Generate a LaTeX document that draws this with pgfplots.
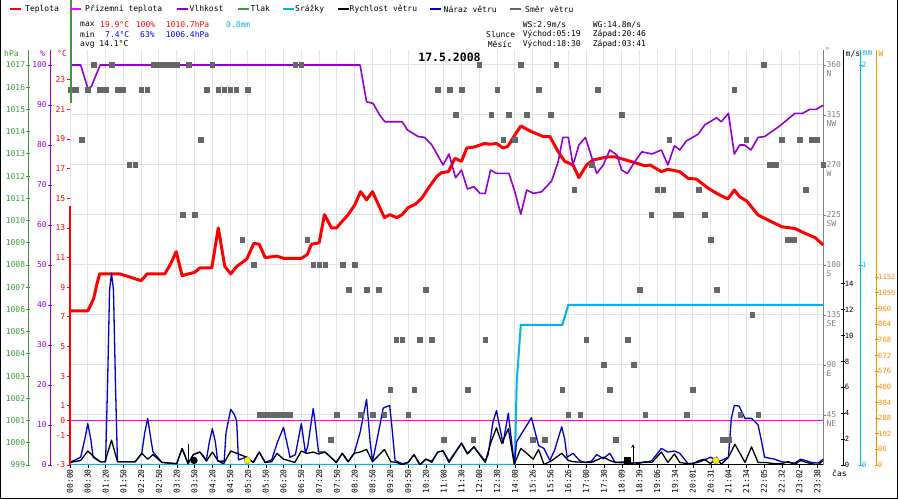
\documentclass[border=0pt]{standalone}
\usepackage{pgfplots}
\pgfplotsset{compat=1.18}
\usepackage{fontspec}
\setmainfont{DejaVu Sans Mono}
\definecolor{cT}{HTML}{FF0000}
\definecolor{cG}{HTML}{FF00FF}
\definecolor{cH}{HTML}{9400D3}
\definecolor{cP}{HTML}{3A9A3A}
\definecolor{cR}{HTML}{00B4F0}
\definecolor{cWG}{HTML}{0000CC}
\definecolor{cWD}{HTML}{666666}
\definecolor{cSun}{HTML}{FF8C00}
\definecolor{cGrid}{HTML}{E3E3E3}
\definecolor{cAx}{HTML}{808080}
\definecolor{cMin}{HTML}{0000FF}
\newcommand{\sm}{\fontsize{8}{9}\selectfont}
\newcommand{\xs}{\fontsize{7.2}{8}\selectfont}
\pgfplotsset{
  every axis/.append style={/pgf/number format/assume math mode=true,/pgf/number format/1000 sep={}},
  lay/.style={scale only axis, width=753.3pt, height=415pt, at={(70pt,35pt)}, anchor=south west, xmin=0, xmax=127},
  yax/.style={scale only axis, width=10pt, height=415pt, hide x axis, xmin=0, xmax=1, ytick align=center, major tick length=4pt, tick label style={font=\sm}},
  rax/.style={yax, tick label style={font=\xs}, yticklabel style={inner sep=0.5pt, xshift=-1.2pt}},
}
\begin{document}
\begin{tikzpicture}[x=1pt,y=1pt]
\useasboundingbox (0,0) rectangle (900,500);
\fill[white] (0,0) rectangle (900,500);
% main axis: grid, direction scale
\begin{axis}[lay, ymin=0, ymax=373.5,
  axis x line*=bottom, axis y line*=right,
  x axis line style={black, line width=1pt},
  y axis line style={cAx, line width=1.2pt},
  xtick={0,3,...,126},
  xticklabels={00:00,00:30,01:20,01:50,02:20,02:50,03:20,03:50,04:20,04:50,05:20,05:50,06:20,06:50,07:20,07:50,08:20,08:50,09:20,09:50,10:20,11:00,11:30,12:00,12:30,14:00,15:26,15:56,16:26,17:00,17:30,18:09,18:39,19:06,19:34,20:01,20:31,21:04,21:34,22:05,22:32,23:02,23:38},
  xticklabel style={rotate=90, anchor=east, font=\sm, inner sep=1pt},
  tick align=outside, major tick length=3pt,
  xtick style={black},
  ytick={45,90,...,360},
  yticklabels={{45\\NE},{90\\E},{135\\SE},{180\\S},{225\\SW},{270\\W},{315\\NW},{360\\N}},
  yticklabel style={align=left, anchor=north west, yshift=4.5pt, xshift=-1pt, font=\sm, text=cAx, inner sep=1pt},
  ytick style={cAx},
  grid=major, grid style={cGrid, line width=1pt},
]
\end{axis}
% temperature
\begin{axis}[lay, ymin=-3, ymax=25.012, hide x axis, axis y line*=left, y axis line style={draw=none},
  ytick={-3,-1,0,1,3,5,7,9,11,13,15,17,19,21,23}, tick align=outside, major tick length=3.5pt,
  ytick style={cT, line width=0.8pt}, yticklabel style={text=cT, font=\sm, inner sep=1pt}]
\addplot[cT, line width=3pt, line join=round] coordinates {(0,7.4) (3,7.4) (3.5,7.8) (4,8.25) (4.5,9.15) (5,9.9) (8.4,9.9) (10,9.7) (12,9.44) (13,9.9) (16,9.9) (17,10.6) (17.9,11.4) (18.9,9.78) (20,9.9) (21,10.0) (21.9,10.3) (23.9,10.3) (25,13.0) (26.1,10.4) (27.1,9.9) (28.1,10.4) (29.8,10.9) (31,11.96) (31.9,11.9) (32.9,11.0) (34.9,11.1) (36,10.95) (39,10.95) (40,11.2) (40.7,11.9) (42,12.0) (42.9,13.9) (44.1,13.0) (44.9,13.0) (46.9,13.9) (48,14.55) (49,15.45) (50,14.9) (51,15.45) (53,13.7) (53.9,13.9) (55.1,13.7) (56,13.9) (57,14.37) (58.2,14.6) (59.3,15.0) (60.4,15.68) (61.8,16.46) (62.6,16.73) (63.8,16.8) (64.9,17.7) (66,17.5) (66.9,18.4) (68,18.45) (69.9,18.7) (70.8,18.65) (71.9,18.7) (73,18.4) (73.8,18.5) (75,19.27) (76,19.88) (77.8,19.5) (79.8,19.17) (80.9,19.17) (82.3,18.15) (83.4,17.5) (84.8,17.25) (85.8,16.4) (87.1,17.25) (88.2,17.59) (90.7,17.8) (91.9,17.8) (94.7,17.47) (96.9,17.2) (97.8,17.25) (99.7,16.8) (100.8,16.96) (102.8,16.8) (104.2,16.35) (105.6,16.3) (107.6,15.68) (109.3,15.27) (110.9,14.96) (112,15.56) (112.9,15.1) (114.1,14.82) (116,13.87) (117.1,13.65) (120,13.08) (122.2,12.96) (123.9,12.64) (125.6,12.35) (127,11.85)};
\addplot[cG, line width=1pt] coordinates {(0,0) (127,0)};
\end{axis}
% humidity
\begin{axis}[lay, ymin=0, ymax=103.75, hide axis]
\addplot[cH, line width=1.6pt, line join=round] coordinates {(0,100) (1.8,100) (3,94.2) (3.6,94.6) (4.5,97.9) (5.1,100) (48.9,100) (50,90.8) (51.1,90.4) (52.2,87.5) (53.1,85.8) (56,85.8) (56.9,83.75) (58.7,82.1) (59.8,81.9) (61,80) (62.9,75) (63.9,77.75) (65,71.8) (66,73.75) (67,69) (68.1,69.6) (69.1,67.9) (70,67.9) (70.9,73.75) (71.9,72.9) (74,72.9) (75,68.3) (76,62.7) (77,68.75) (78.1,67.9) (79.5,68.3) (81.2,71) (82.3,75.8) (83.1,81.9) (84,81.9) (84.8,75) (85.8,80) (86.9,81.9) (88.8,72.9) (89.9,75) (91,78.75) (92.2,77.5) (93,73.75) (94,72.9) (95.2,75.8) (96.4,78.3) (98.1,77.75) (99.7,78.75) (100.8,75) (101.9,79.8) (102.8,78.75) (103.9,81) (105.9,82.7) (107,85) (109,86.8) (109.8,85.8) (111,87.9) (112,77.75) (112.9,80) (113.7,80) (114.8,78.75) (116,81.9) (117.1,82.1) (119.7,84.8) (122.2,87.9) (123.5,87.9) (124.7,88.9) (125.8,88.9) (126.8,89.8) (127,89.8)};
\end{axis}
% precipitation
\begin{axis}[lay, ymin=0, ymax=2.075, hide axis]
\addplot[cR, line width=2pt] coordinates {(0,0) (75,0) (75.3,0.41) (76,0.70) (83,0.70) (84,0.80) (127,0.80)};
\end{axis}
% wind
\begin{axis}[lay, ymin=0, ymax=32.05, hide axis]
\addplot[cWG, line width=1.3pt, line join=round] coordinates {(0,0.2) (1.8,0.6) (2.5,2.0) (3,3.2) (3.5,2.0) (3.9,0.6) (5.1,0.25) (6,0.25) (6.33,6.15) (6.67,13.5) (7,14.8) (7.33,13.5) (7.67,6.15) (8,0.25) (11,0.25) (12.1,0.9) (12.6,2.5) (13.1,3.6) (13.7,1.8) (14,1.0) (15.5,0.2) (18,0.1) (18.9,1.28) (19.9,0.1) (20.8,0.8) (21.9,1.0) (23,0.4) (23.5,1.8) (24,2.8) (24.5,1.8) (24.9,0.3) (26,0.3) (26.3,2.5) (27.1,4.3) (27.7,3.9) (28.1,3.4) (28.4,0.4) (29.8,0.6) (30.9,0.2) (31.9,1.0) (32.9,0.2) (34,0.4) (35,1.8) (36,2.9) (37.1,0.6) (38,0.8) (39,3.2) (39.7,0.9) (40.1,1.5) (41,4.36) (41.3,3.4) (41.9,1.0) (43,1.0) (44.9,0.2) (45.9,0.9) (46.9,0.25) (47.9,0.9) (48.9,2.5) (50,5.07) (50.6,1.8) (51,0.25) (52,2.5) (52.8,4.4) (53.9,4.6) (54.3,2.8) (54.8,0.35) (56,0.1) (57,0.2) (58,0.8) (59,0.05) (60,0.45) (61,0.3) (62,1.0) (62.9,1.1) (63.9,0.3) (66,1.7) (67,0.9) (68.1,1.4) (70,0.3) (70.5,0.8) (71.3,3.3) (71.9,4.2) (72.5,2.8) (73,1.67) (73.9,4.0) (74.4,2.0) (74.9,0.05) (75.3,1.8) (76.1,2.4) (77.8,3.65) (79,1.5) (79.9,1.28) (80.9,0.35) (81.7,1.15) (82.9,2.95) (83.4,2.0) (83.8,0.6) (84.8,0.9) (85.9,0.35) (86.8,0.2) (87.9,0.3) (88.8,0.8) (89.9,0.5) (91,0.9) (91.9,0.2) (94.1,0.15) (97.2,0.2) (98.1,0.35) (99.7,1.28) (100.8,1.0) (101.9,1.08) (102.8,0.9) (104.2,0.1) (105.9,0.2) (107,0.4) (108,0.6) (109,0.35) (109.8,0.35) (111,0.6) (111.5,3.6) (112,4.6) (112.8,4.55) (113.8,3.6) (114.9,3.6) (116,3.1) (116.6,1.8) (117.1,0.6) (118.8,0.45) (119.9,0.25) (122.2,0.15) (123.2,0.45) (125,0.2) (126.1,0.15) (127,0.45)};
\addplot[black, line width=1.3pt, line join=round] coordinates {(0,0.2) (1.8,0.35) (3,1.08) (4.1,0.6) (5.1,0.25) (5.9,0.25) (7,1.92) (8,0.25) (11,0.25) (12.1,0.9) (13.1,0.45) (14,0.8) (15.5,0.2) (18,0.1) (18.9,1.28) (19.9,0.1) (20.8,0.8) (21.9,1.0) (23,0.3) (24,1.0) (25,0.3) (25.9,0.1) (27.1,1.08) (28.1,0.9) (29.8,0.6) (30.9,0.2) (31.9,1.0) (32.9,0.2) (34,0.25) (34.9,0.9) (36,0.45) (37.9,0.2) (39,1.08) (40,0.9) (41,1.0) (41.9,0.85) (43,1.0) (44.9,0.2) (45.9,0.9) (46.9,0.25) (47.9,0.9) (48.9,1.0) (50,1.2) (51,0.25) (53,1.2) (54.1,0.25) (55.1,0.2) (56,0) (57,0.2) (58,0.8) (59,0) (60,0.45) (61,0.2) (62,1.0) (62.9,1.08) (63.9,0.2) (66,1.67) (67,0.85) (68.1,1.4) (70,0.2) (70.9,1.67) (71.9,2.87) (72.8,1.67) (73.9,2.8) (74.9,0.05) (76,1.28) (77,0.9) (78.1,0.45) (79,1.2) (79.9,0.05) (81.1,0.3) (82.9,0.9) (84,0.35) (84.9,0.25) (86.8,0.2) (87.9,0.2) (89.9,0.6) (91,0.35) (91.9,0.2) (94.1,0.25) (95.2,0.05) (96.9,0.25) (98.1,0.2) (99.7,1.0) (100.8,0.2) (101.9,0.85) (102.8,0.2) (104.8,0.05) (105.9,0.3) (106.9,0.45) (108,0.1) (109,0.6) (109.8,0.05) (111,0.6) (112.1,1.6) (113.8,0.2) (114.9,1.4) (116,0.2) (117.1,0.2) (118.8,0.1) (119.9,0.1) (121.1,0.25) (122.2,0.05) (123.2,0.35) (124.1,0.2) (126.1,0) (127,0.35)};
% sun / moon events
\addplot[only marks, mark=*, mark size=3.4pt, black] coordinates {(20.9,0.35)};
\addplot[only marks, mark=*, mark size=3.4pt, fill=yellow, draw=black!50] coordinates {(29.9,0.35) (108.9,0.35)};
\addplot[only marks, mark=square*, mark size=3pt, black] coordinates {(93.9,0.35)};
\addplot[black, line width=0.6pt, ->, >=stealth] coordinates {(94.9,0.1) (94.9,1.6)};
\addplot[black, line width=0.6pt, ->, >=stealth] coordinates {(19.9,1.6) (19.9,0.1)};
\end{axis}
% wind direction
\begin{axis}[lay, ymin=0, ymax=373.5, hide axis]
\addplot[only marks, mark=square*, mark size=2.3pt, color=cWD] coordinates {(0,337.5) (1,337.5) (2,292.5) (3,337.5) (4,360) (5,337.5) (6,337.5) (7,360) (8,337.5) (9,337.5) (10,270) (11,270) (12,337.5) (13,337.5) (14,360) (15,360) (16,360) (17,360) (18,360) (19,225) (20,360) (21,225) (22,292.5) (23,337.5) (24,360) (25,337.5) (26,337.5) (27,337.5) (28,337.5) (29,202.5) (30,337.5) (31,180) (32,45) (33,45) (34,45) (35,45) (36,45) (37,45) (38,360) (39,360) (40,202.5) (41,180) (42,180) (43,180) (44,22.5) (45,45) (46,180) (47,157.5) (48,180) (49,45) (50,157.5) (51,45) (52,157.5) (53,45) (54,67.5) (55,112.5) (56,112.5) (57,45) (58,67.5) (59,112.5) (60,157.5) (61,112.5) (62,337.5) (63,22.5) (64,337.5) (65,315) (66,337.5) (67,67.5) (68,22.5) (69,360) (70,112.5) (71,315) (72,337.5) (73,292.5) (74,315) (75,292.5) (76,360) (77,315) (78,22.5) (79,337.5) (80,22.5) (81,315) (82,360) (83,67.5) (84,45) (85,247.5) (86,45) (87,112.5) (88,270) (89,337.5) (90,90) (91,67.5) (92,22.5) (93,315) (94,112.5) (95,90) (96,157.5) (97,45) (98,225) (99,247.5) (100,247.5) (101,292.5) (102,225) (103,225) (104,45) (105,67.5) (106,247.5) (107,225) (108,202.5) (109,157.5) (110,22.5) (111,22.5) (112,337.5) (113,45) (114,292.5) (115,135) (116,45) (117,360) (118,270) (119,270) (120,292.5) (121,202.5) (122,202.5) (123,292.5) (124,247.5) (125,292.5) (126,292.5) (127,270)};
\end{axis}
% left axes
\begin{axis}[yax, at={(28.3pt,35pt)}, anchor=south west, ymin=999, ymax=1017.675, ytick={999,1000,...,1017}, axis y line*=left, y axis line style={draw=cP, line width=1pt}, ytick style={cP, line width=0.8pt}, yticklabel style={text=cP, inner sep=1pt}]
\end{axis}
\begin{axis}[yax, at={(50pt,35pt)}, anchor=south west, ymin=0, ymax=103.75, ytick={0,10,...,100}, axis y line*=left, y axis line style={draw=cH, line width=1pt}, ytick style={cH, line width=0.8pt}, yticklabel style={text=cH, inner sep=1pt}]
\end{axis}
% right axes
\begin{axis}[rax, at={(843.3pt,35pt)}, anchor=south east, ymin=0, ymax=32.05, ytick={0,2,...,14}, axis y line*=right, y axis line style={draw=black, line width=1pt}, ytick style={black, line width=0.8pt}, yticklabel style={text=black}]
\end{axis}
\begin{axis}[rax, at={(860.7pt,35pt)}, anchor=south east, ymin=0, ymax=2.075, ytick={0,1,2}, axis y line*=right, y axis line style={draw=cR, line width=1pt}, ytick style={cR, line width=0.8pt}, yticklabel style={text=cR}]
\end{axis}
\begin{axis}[rax, at={(876.7pt,35pt)}, anchor=south east, ymin=0, ymax=2546, ytick={0,96,...,1152}, axis y line*=right, y axis line style={draw=cSun, line width=1pt}, ytick style={cSun, line width=0.8pt}, yticklabel style={text=cSun}]
\end{axis}
% left edge lines
\draw[cT, line width=1.2pt] (70,35) -- (70,294);
\draw[cP, line width=1.2pt] (71,397) -- (71,500);
% frame
\draw[black, line width=1.2pt] (0.6,500) -- (0.6,1.8) -- (897.4,1.8) -- (897.4,500);
% legend
\begin{scope}[every node/.style={font=\sm, inner sep=0, anchor=west}]
\foreach \xa/\xb/\c/\t in {10/25/cT/Teplota, 70/85/cG/Přízemní teplota, 177/189.5/cH/Vlhkost, 238/250.5/cP/Tlak, 282.5/295/cR/Srážky, 337.5/349.5/black/Rychlost větru, 430/443.5/cWG/Náraz větru, 510/525/cWD/Směr větru}{
  \draw[\c, line width=2.5pt] (\xa,491) -- (\xa+11,491);
  \node at (\xb,491) {\t};
}
\node at (80,475.5) {max};
\node[text=cT] at (100,475.5) {19.9°C};
\node[text=cT] at (135.7,475.5) {100\%};
\node[text=cT] at (165.7,475.5) {1010.7hPa};
\node[text=cR] at (226,475.5) {0.8mm};
\node at (80,465.5) {min};
\node[text=cMin] at (105,465.5) {7.4°C};
\node[text=cMin] at (140,465.5) {63\%};
\node[text=cMin] at (165.7,465.5) {1006.4hPa};
\node at (80,455.5) {avg 14.1°C};
\node at (522.7,475.5) {WS:2.9m/s};
\node at (592.7,475.5) {WG:14.8m/s};
\node at (486,465.5) {Slunce};
\node at (522.7,465.5) {Východ:05:19};
\node at (592.7,465.5) {Západ:20:46};
\node at (487.7,455.5) {Měsíc};
\node at (522.7,455.5) {Východ:18:30};
\node at (592.7,455.5) {Západ:03:41};
\node[text=cP] at (4,446.5) {hPa};
\node[text=cH] at (40,446.5) {\%};
\node[text=cT] at (57,446.5) {°C};
\node[text=cAx] at (825,449) {°};
\node at (845.5,446.5) {m/s};
\node[text=cR] at (862.5,446.5) {mm};
\node[text=cSun] at (878.5,446.5) {W};
\node at (832,27) {čas};
\end{scope}
\node[font=\fontsize{11.5}{12}\selectfont\bfseries] at (449.5,443) {17.5.2008};
\end{tikzpicture}
\end{document}
